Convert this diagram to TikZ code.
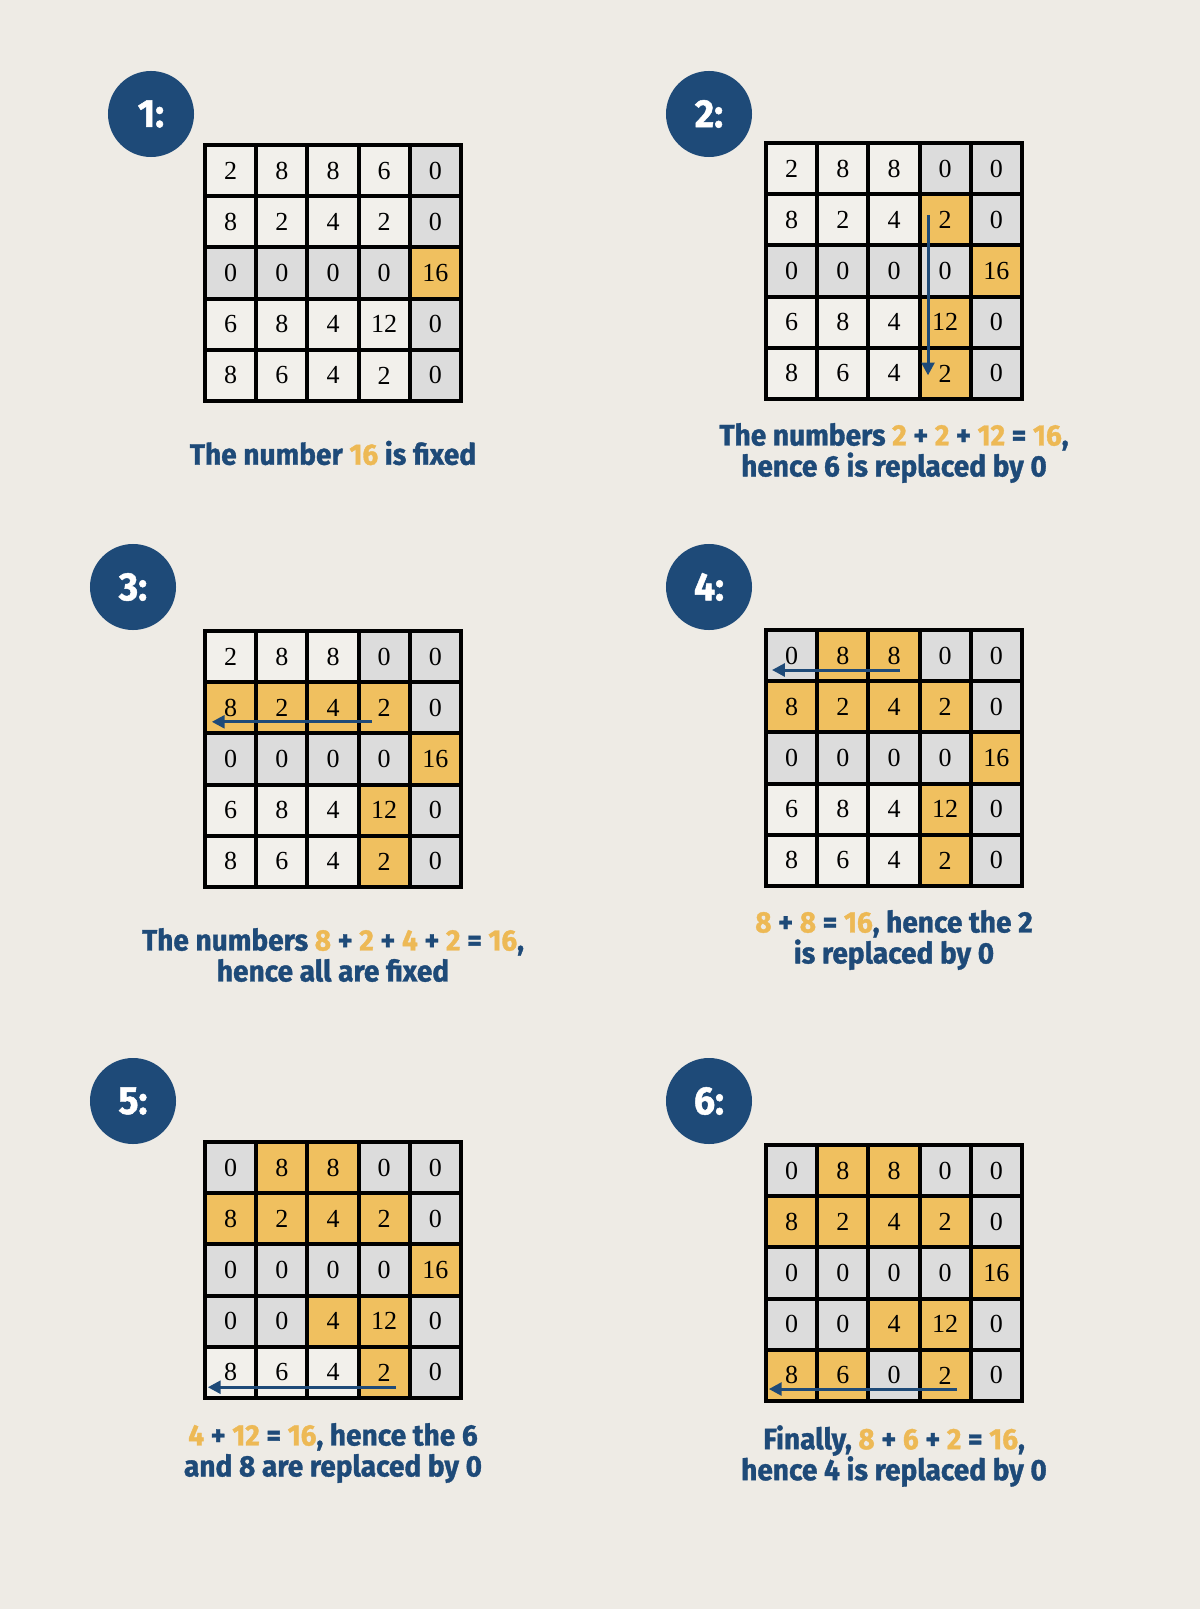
\documentclass[tikz,border=0pt]{standalone}
\usepackage{fontspec}
\setmainfont{Liberation Serif}
\newfontfamily\capfont[FakeStretch=0.95, BoldFeatures={FakeBold=1.2}]{Fira Sans}
\usetikzlibrary{arrows.meta}

\definecolor{paper}{HTML}{EEEBE5}
\definecolor{navy}{HTML}{1E4A78}
\definecolor{celly}{HTML}{F0C05F}
\definecolor{cellg}{HTML}{DCDCDC}
\definecolor{cellw}{HTML}{F2F0EB}
\definecolor{texty}{HTML}{EDB955}

\newcommand{\yel}[1]{{\color{texty}#1}}

\tikzset{
	cellbox/.style = {rectangle, draw = black, line width = 0.1cm, minimum size = 1.28cm, inner sep = 0pt, outer sep = 0pt, font = \fontsize{18.5}{18.5}\selectfont},
	badge/.style = {circle, fill = navy, minimum size = 2.15cm, text = white, font = \capfont\bfseries\fontsize{28}{28}\selectfont},
	caption/.style = {align = center, text = navy, inner sep = 0pt, font = \capfont\bfseries\fontsize{21}{22}\selectfont},
	flow/.style = {draw = navy, line width = 0.075cm, -{Triangle[length = 0.32cm, width = 0.32cm]}}
}

% one 5x5 board: name, top left corner, cells as value/colour
\newcommand{\board}[4]{
	\foreach \v/\c [count = \i from 0] in {#4} {
		\pgfmathtruncatemacro{\rr}{floor(\i/5) + 1}
		\pgfmathtruncatemacro{\kk}{mod(\i, 5) + 1}
		\node [cellbox, fill = cell\c] (#1-\rr-\kk) at ({#2 + (\kk - 0.5)*51.2}, {#3 + (\rr - 0.5)*51.2}) {\v};
	}
	\draw [line width = 0.1cm] (#1-1-1.north west) rectangle (#1-5-5.south east);
}

\begin{document}
\begin{tikzpicture}[x = 0.025cm, y = -0.025cm]

	\fill [paper] (0, 0) rectangle (1200, 1609);
	\useasboundingbox (0, 0) rectangle (1200, 1609);

	% step 1
	\node [badge] (b1) at (151, 114) {1:};
	\board{g1}{205}{145}{2/w, 8/w, 8/w, 6/w, 0/g,
		8/w, 2/w, 4/w, 2/w, 0/g,
		0/g, 0/g, 0/g, 0/g, 16/y,
		6/w, 8/w, 4/w, 12/w, 0/g,
		8/w, 6/w, 4/w, 2/w, 0/g}
	\node [caption] (t1) at (333, 453) {The number \yel{16} is fixed};

	% step 2
	\node [badge] (b2) at (709, 114) {2:};
	\board{g2}{766}{143}{2/w, 8/w, 8/w, 0/g, 0/g,
		8/w, 2/w, 4/w, 2/y, 0/g,
		0/g, 0/g, 0/g, 0/g, 16/y,
		6/w, 8/w, 4/w, 12/y, 0/g,
		8/w, 6/w, 4/w, 2/y, 0/g}
	\draw [flow] ([xshift = -0.43cm, yshift = 0.12cm]g2-2-4.center) -- ([xshift = -0.43cm, yshift = -0.05cm]g2-5-4.center);
	\node [caption] (t2) at (894, 453) {The numbers \yel{2} + \yel{2} + \yel{12} = \yel{16},\\hence 6 is replaced by 0};

	% step 3
	\node [badge] (b3) at (133, 587) {3:};
	\board{g3}{205}{631}{2/w, 8/w, 8/w, 0/g, 0/g,
		8/y, 2/y, 4/y, 2/y, 0/g,
		0/g, 0/g, 0/g, 0/g, 16/y,
		6/w, 8/w, 4/w, 12/y, 0/g,
		8/w, 6/w, 4/w, 2/y, 0/g}
	\draw [flow] ([xshift = -0.3cm, yshift = -0.35cm]g3-2-4.center) -- ([xshift = -0.47cm, yshift = -0.35cm]g3-2-1.center);
	\node [caption] (t3) at (333, 955) {The numbers \yel{8} + \yel{2} + \yel{4} + \yel{2} = \yel{16},\\hence all are fixed};

	% step 4
	\node [badge] (b4) at (709, 587) {4:};
	\board{g4}{766}{630}{0/g, 8/y, 8/y, 0/g, 0/g,
		8/y, 2/y, 4/y, 2/y, 0/g,
		0/g, 0/g, 0/g, 0/g, 16/y,
		6/w, 8/w, 4/w, 12/y, 0/g,
		8/w, 6/w, 4/w, 2/y, 0/g}
	\draw [flow] ([xshift = 0.15cm, yshift = -0.36cm]g4-1-3.center) -- ([xshift = -0.49cm, yshift = -0.36cm]g4-1-1.center);
	\node [caption] (t4) at (894, 940) {\yel{8} + \yel{8} = \yel{16}, hence the 2\\is replaced by 0};

	% step 5
	\node [badge] (b5) at (133, 1101) {5:};
	\board{g5}{205}{1142}{0/g, 8/y, 8/y, 0/g, 0/g,
		8/y, 2/y, 4/y, 2/y, 0/g,
		0/g, 0/g, 0/g, 0/g, 16/y,
		0/g, 0/g, 4/y, 12/y, 0/g,
		8/w, 6/w, 4/w, 2/y, 0/g}
	\draw [flow] ([xshift = 0.3cm, yshift = -0.37cm]g5-5-4.center) -- ([xshift = -0.57cm, yshift = -0.37cm]g5-5-1.center);
	\node [caption] (t5) at (333, 1453) {\yel{4} + \yel{12} = \yel{16}, hence the 6\\and 8 are replaced by 0};

	% step 6
	\node [badge] (b6) at (709, 1101) {6:};
	\board{g6}{766}{1145}{0/g, 8/y, 8/y, 0/g, 0/g,
		8/y, 2/y, 4/y, 2/y, 0/g,
		0/g, 0/g, 0/g, 0/g, 16/y,
		0/g, 0/g, 4/y, 12/y, 0/g,
		8/y, 6/y, 0/g, 2/y, 0/g}
	\draw [flow] ([xshift = 0.3cm, yshift = -0.34cm]g6-5-4.center) -- ([xshift = -0.57cm, yshift = -0.34cm]g6-5-1.center);
	\node [caption] (t6) at (894, 1456) {Finally, \yel{8} + \yel{6} + \yel{2} = \yel{16},\\hence 4 is replaced by 0};

\end{tikzpicture}
\end{document}
